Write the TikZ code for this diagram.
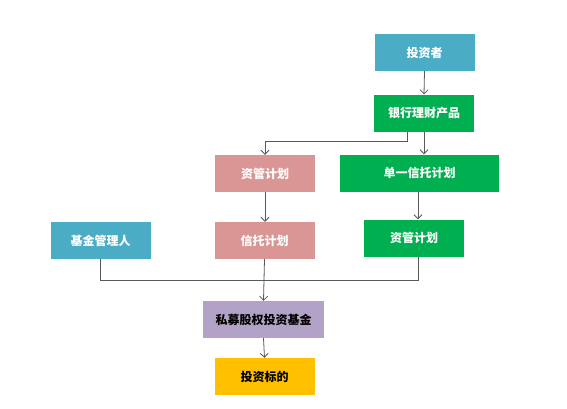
\documentclass[tikz,border=0pt]{standalone}
\usepackage{fontspec}
\setmainfont{Noto Sans CJK SC}
\usepackage{tikz}
\usetikzlibrary{arrows.meta,calc,positioning}
\definecolor{FlowBlue}{RGB}{75,172,198}
\definecolor{FlowGreen}{RGB}{0,176,80}
\definecolor{FlowPink}{RGB}{217,150,148}
\definecolor{FlowPurple}{RGB}{179,162,199}
\definecolor{FlowGold}{RGB}{255,192,0}
\definecolor{FlowLine}{RGB}{89,89,89}

\tikzset{
    flowbox/.style={minimum width=100pt, minimum height=37pt, inner sep=0pt,
        font=\fontsize{12}{14}\selectfont\bfseries, text=white},
    link/.style={FlowLine, line width=0.8pt},
    arrowlink/.style={link, -{Straight Barb[length=4pt,width=8pt]}}
}

\begin{document}
\begin{tikzpicture}[x=1pt, y=-1pt]
    \fill[white] (0,0) rectangle (567,408);
    \useasboundingbox (0,0) rectangle (567,408);

    % boxes
    \node[flowbox, fill=FlowBlue] (tzz) at (424.5,52.5) {投资者};
    \node[flowbox, fill=FlowGreen] (yhlc) at (424,113) {银行理财产品};
    \node[flowbox, fill=FlowPink] (zgjhA) at (265,173.5) {资管计划};
    \node[flowbox, fill=FlowGreen, minimum width=159pt] (dyxt) at (419.5,173) {单一信托计划};
    \node[flowbox, fill=FlowBlue] (jjgl) at (100.5,240.5) {基金管理人};
    \node[flowbox, fill=FlowPink] (xtjh) at (264.5,240.5) {信托计划};
    \node[flowbox, fill=FlowGreen] (zgjhB) at (414,238) {资管计划};
    \node[flowbox, fill=FlowPurple, minimum width=121pt, text=black] (smjj) at (263.5,319.5) {私募股权投资基金};
    \node[flowbox, fill=FlowGold, text=black] (tzbd) at (264.5,376.5) {投资标的};

    \coordinate (hub) at (264.5,280);

    % connectors
    \draw[arrowlink] (tzz.south) -- (yhlc.north);
    \draw[arrowlink] ([xshift=-17pt]yhlc.south) -- ++(0,10) -| (zgjhA.north);
    \draw[arrowlink] (yhlc.south) -- (yhlc.south |- dyxt.north);
    \draw[arrowlink] (zgjhA.south) -- (zgjhA.south |- xtjh.north);
    \draw[arrowlink] ([xshift=-1.5pt]dyxt.south) -- ([xshift=-1.5pt]dyxt.south |- zgjhB.north);
    \draw[link] (jjgl.south) |- (hub);
    \draw[link] ([xshift=4pt]zgjhB.south) |- (hub);
    \draw[arrowlink] (xtjh.south) -- (smjj.north);
    \draw[arrowlink] (smjj.south) -- (tzbd.north);
\end{tikzpicture}
\end{document}
